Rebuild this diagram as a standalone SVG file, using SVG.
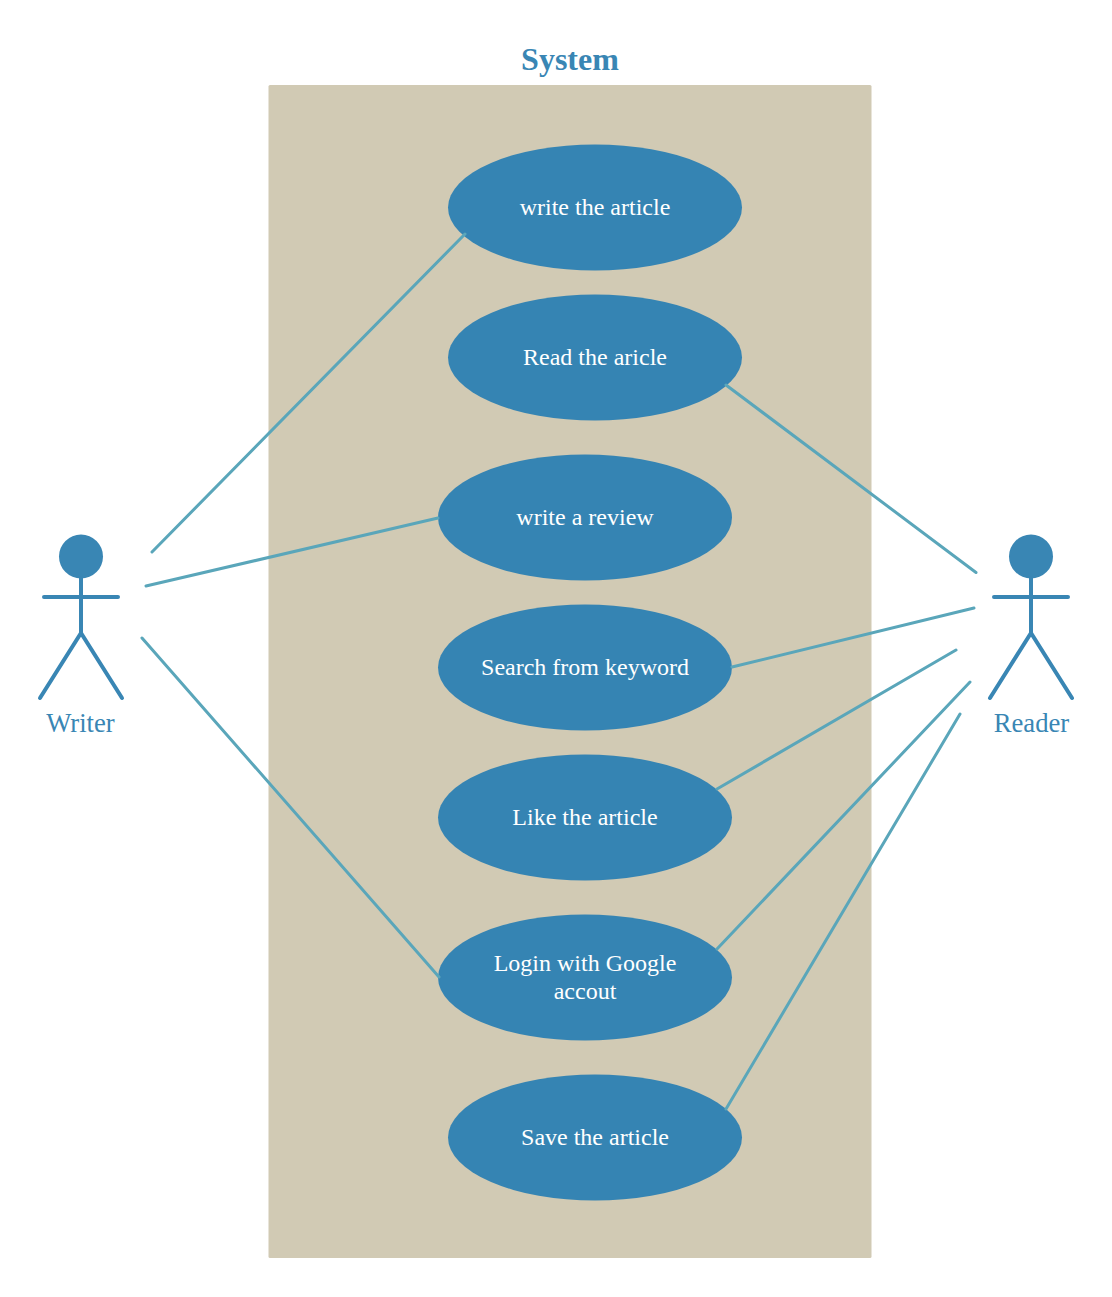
<svg xmlns="http://www.w3.org/2000/svg" width="1112" height="1297" viewBox="0 0 1112 1297">
<style>
.uc{fill:#3584b3}
.ut{fill:#fff;font:24px "Liberation Serif",serif;text-anchor:middle}
.con line{stroke:#5aa6ba;stroke-width:3;stroke-linecap:round}
.act{stroke:#3986b4;stroke-width:4;stroke-linecap:round;fill:none}
.lab{fill:#3986b4;font:26.67px "Liberation Serif",serif;text-anchor:middle}
</style>
<rect id="boundary" x="268.500" y="85" width="603" height="1173" rx="1.5" fill="#d1cab4"/>
<text id="title" x="570" y="70" text-anchor="middle" style="font:bold 32px 'Liberation Serif',serif;fill:#3986b4">System</text>
<g id="uc1"><ellipse class="uc" cx="595" cy="207.500" rx="147" ry="63"/><text class="ut" x="595" y="214.500">write the article</text></g>
<g id="uc2"><ellipse class="uc" cx="595" cy="357.500" rx="147" ry="63"/><text class="ut" x="595" y="364.500">Read the aricle</text></g>
<g id="uc3"><ellipse class="uc" cx="585" cy="517.500" rx="147" ry="63"/><text class="ut" x="585" y="524.500">write a review</text></g>
<g id="uc4"><ellipse class="uc" cx="585" cy="667.500" rx="147" ry="63"/><text class="ut" x="585" y="674.500">Search from keyword</text></g>
<g id="uc5"><ellipse class="uc" cx="585" cy="817.500" rx="147" ry="63"/><text class="ut" x="585" y="824.500">Like the article</text></g>
<g id="uc6"><ellipse class="uc" cx="585" cy="977.500" rx="147" ry="63"/><text class="ut" x="585" y="970.500">Login with Google</text><text class="ut" x="585" y="998.500">accout</text></g>
<g id="uc7"><ellipse class="uc" cx="595" cy="1137.500" rx="147" ry="63"/><text class="ut" x="595" y="1144.500">Save the article</text></g>
<g id="connectors" class="con">
<line x1="152" y1="552" x2="465" y2="234"/>
<line x1="146" y1="586" x2="438" y2="518"/>
<line x1="142" y1="638" x2="439" y2="977"/>
<line x1="726" y1="385" x2="976" y2="572.500"/>
<line x1="732" y1="667" x2="974" y2="608"/>
<line x1="717" y1="789" x2="956" y2="650"/>
<line x1="717" y1="949" x2="970" y2="682"/>
<line x1="726" y1="1109" x2="960" y2="714"/>
</g>
<g id="writer"><circle cx="81" cy="556.500" r="22" fill="#3986b4"/><path class="act" d="M81 578V633M44 597H118M40 698L81 633L122 698"/><text class="lab" x="80.500" y="732">Writer</text></g>
<g id="reader"><circle cx="1031" cy="556.500" r="22" fill="#3986b4"/><path class="act" d="M1031 578V633M994 597H1068M990 698L1031 633L1072 698"/><text class="lab" x="1031.500" y="732">Reader</text></g>
</svg>
